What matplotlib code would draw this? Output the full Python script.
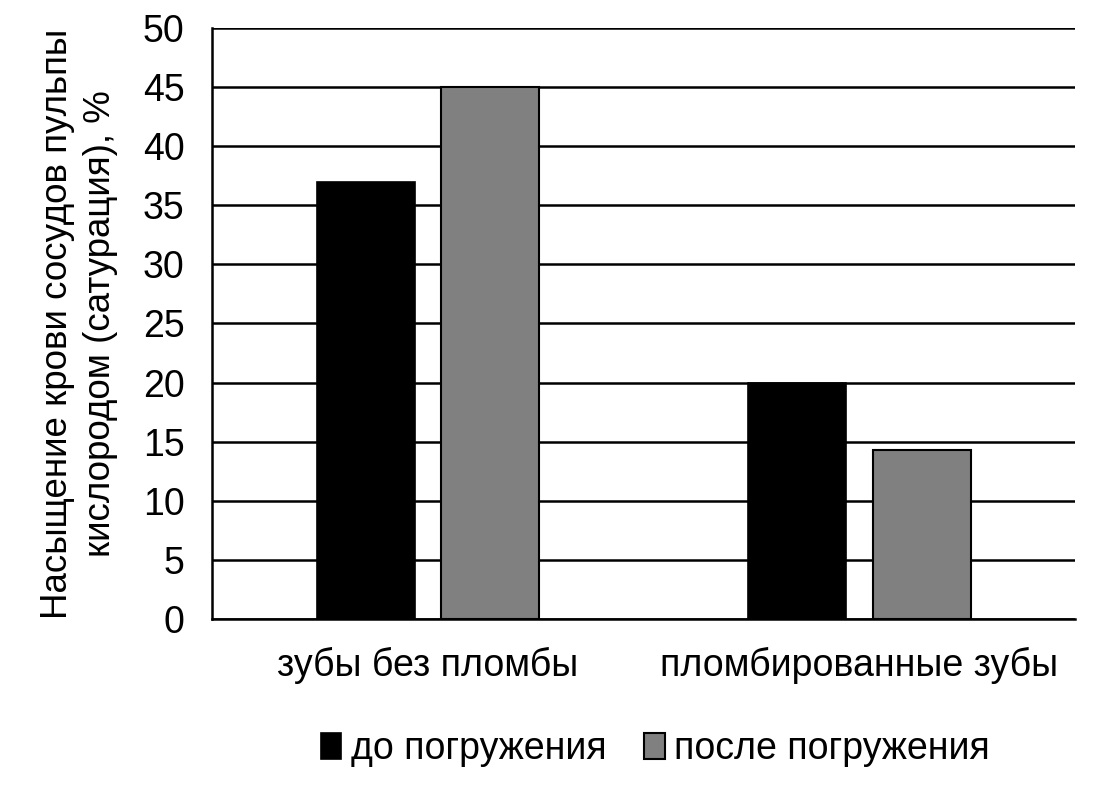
import numpy as np
import matplotlib
matplotlib.use('Agg')
from matplotlib import pyplot as plt

plt.rcParams['font.family'] = ['Liberation Sans', 'DejaVu Sans']

categories = ['зубы без пломбы', 'пломбированные зубы']
series_names = ['до погружения', 'после погружения']
before = [37, 20]
after = [45, 14.3]
yticks = [0, 5, 10, 15, 20, 25, 30, 35, 40, 45, 50]

fig = plt.figure(figsize=(11.05, 7.86), dpi=100)
ax = fig.add_axes([0.192, 0.2125, 0.781, 0.752])

x = np.arange(len(categories))
w = 0.227
off = 0.144
ax.bar(x - off, before, w, color='black', edgecolor='black', linewidth=1.2,
       label=series_names[0], zorder=3)
ax.bar(x + off, after, w, color='#808080', edgecolor='black', linewidth=1.5,
       label=series_names[1], zorder=3)

ax.set_xlim(-0.5, 1.5)
ax.set_ylim(0, 50)
ax.set_yticks(yticks)
ax.set_xticks(x)
ax.set_xticklabels(categories, fontsize=27)
ax.tick_params(axis='y', labelsize=27, length=0, pad=20)
ax.tick_params(axis='x', length=0, pad=20)
ax.yaxis.grid(True, color='black', linewidth=1.8, zorder=0)
ax.set_axisbelow(True)

for s in ['top', 'right']:
    ax.spines[s].set_visible(False)
ax.spines['left'].set_linewidth(1.8)
ax.spines['bottom'].set_linewidth(1.8)

ax.set_ylabel('Насыщение крови сосудов пульпы\nкислородом (сатурация), %',
              fontsize=26.5, labelpad=18, linespacing=1.3)

leg = fig.legend(loc='center', bbox_to_anchor=(0.593, 0.047), ncol=2, frameon=False,
                 fontsize=27, handlelength=0.55, handleheight=0.7,
                 handletextpad=0.25, columnspacing=1.0)

plt.savefig('out.png', dpi=100)
